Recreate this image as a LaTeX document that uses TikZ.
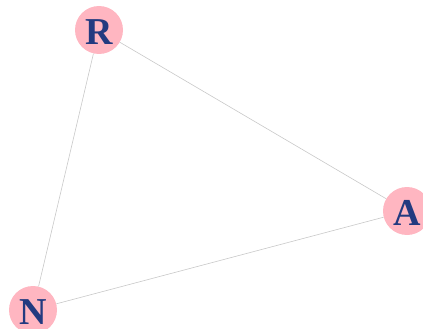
\documentclass[tikz,border=0pt]{standalone}
\usepackage{fontspec}
\setmainfont{Liberation Serif}
\definecolor{nodepink}{HTML}{FFB6C1}
\definecolor{labelblue}{HTML}{233A80}
\definecolor{edgegray}{HTML}{C8C8C8}
\begin{document}
\begin{tikzpicture}[x=1pt,y=-1pt,
  vertex/.style={circle,fill=nodepink,draw=none,minimum size=48pt,inner sep=0pt},
  tag/.style={text=labelblue,font=\fontsize{38}{38}\selectfont\bfseries,yshift=-2pt},
  link/.style={draw=edgegray,line width=0.6pt}]
  \useasboundingbox (0,0) rectangle (423,329);
  % vertices
  \node[vertex] (R) at (99,30) {};
  \node[vertex] (A) at (407,211) {};
  \node[vertex] (N) at (33,310) {};
  % labels
  \node[tag] (Rl) at (R) {R};
  \node[tag] (Al) at (A) {A};
  \node[tag] (Nl) at (N) {N};
  % edges
  \draw[link] (R) -- (A);
  \draw[link] (R) -- (N);
  \draw[link] (N) -- (A);
\end{tikzpicture}
\end{document}
